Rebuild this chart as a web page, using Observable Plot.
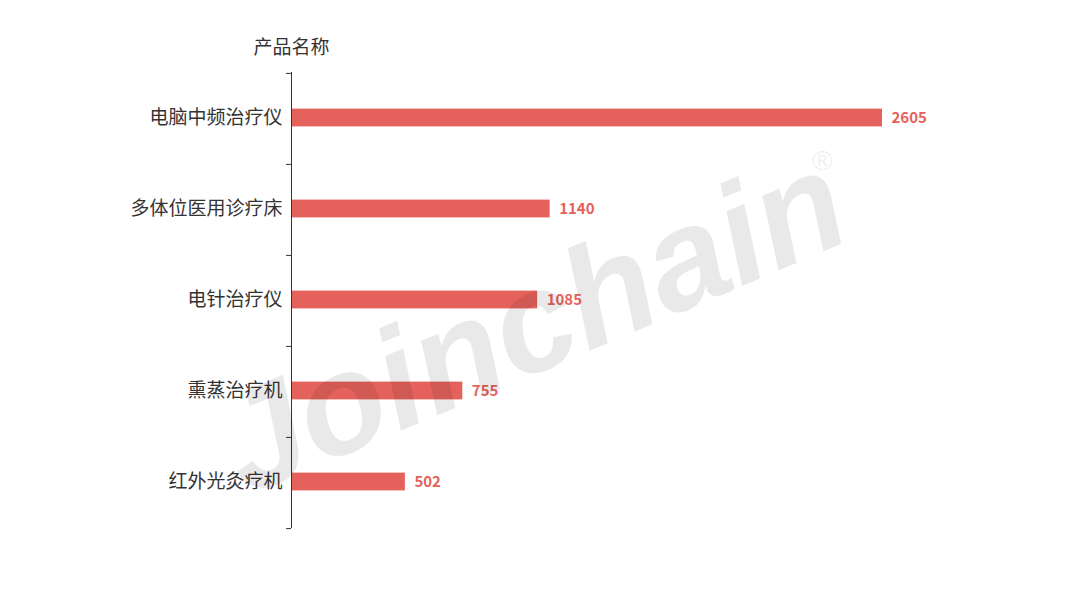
<!DOCTYPE html>
<html>
<head>
<meta charset="utf-8">
<script src="https://cdn.jsdelivr.net/npm/d3@7"></script>
<script src="https://cdn.jsdelivr.net/npm/@observablehq/plot@0.6"></script>
<style>
  html, body { margin: 0; padding: 0; background: #fff; }
  #wrap { position: relative; width: 1080px; height: 600px; overflow: hidden; }
  #wm {
    position: absolute; left: 532px; top: 322px;
    transform: translate(-50%, -50%) rotate(-23deg);
    font-family: "Liberation Sans", Arial, sans-serif; font-weight: bold; font-style: italic;
    font-size: 142px; color: rgba(0,0,0,0.085);
    white-space: nowrap; pointer-events: none; line-height: 1;
  }
  #reg {
    position: absolute; left: 812px; top: 147px;
    font-family: "Liberation Sans", Arial, sans-serif; font-size: 28px;
    color: rgba(0,0,0,0.085); pointer-events: none; line-height: 1;
  }
</style>
</head>
<body>
<div id="wrap">
  <div id="chart"></div>
  <div id="wm">Joinchain</div>
  <div id="reg">®</div>
</div>
<script>
const categories = ["电脑中频治疗仪", "多体位医用诊疗床", "电针治疗仪", "熏蒸治疗机", "红外光灸疗机"];
const values = [2605, 1140, 1085, 755, 502];
const axisTitle = "产品名称";

const data = categories.map((name, i) => ({name, value: values[i]}));

const W = 1080, H = 600, mT = 72, mB = 72, mL = 291, mR = 198;
const half = (H - mT - mB) / categories.length / 2;
const barH = 18;
const red = "#e5625c";
const ink = "#333";

const chart = Plot.plot({
  width: W, height: H,
  marginLeft: mL, marginRight: mR, marginTop: mT, marginBottom: mB,
  style: {fontFamily: "'Noto Sans CJK SC', 'Noto Sans', sans-serif", background: "transparent"},
  x: {domain: [0, d3.max(values)], axis: null},
  y: {domain: categories, padding: 0},
  marks: [
    Plot.barX(data, {y: "name", x: "value", fill: red, insetTop: half - barH / 2 - 1, insetBottom: half - barH / 2 + 1}),
    Plot.text(data, {y: "name", x: "value", text: d => String(d.value), textAnchor: "start", dx: 9, dy: -1,
      fill: red, fontWeight: "bold", fontSize: 15}),
    Plot.axisY({tickSize: 0, tickPadding: 9, fontSize: 19, fill: ink, label: null, dy: -1}),
    Plot.ruleX([0], {stroke: ink, strokeWidth: 1}),
    Plot.ruleY(categories, {y: d => d, dy: -half, x1: () => 0, x2: () => 0, insetLeft: -5, stroke: ink}),
    Plot.ruleY([categories[categories.length - 1]], {y: d => d, dy: half, x1: () => 0, x2: () => 0, insetLeft: -5, stroke: ink}),
    Plot.text([axisTitle], {x: () => 0, text: d => d, frameAnchor: "top", dy: -32, fontSize: 19, fill: ink})
  ]
});
document.getElementById("chart").appendChild(chart);
</script>
</body>
</html>
